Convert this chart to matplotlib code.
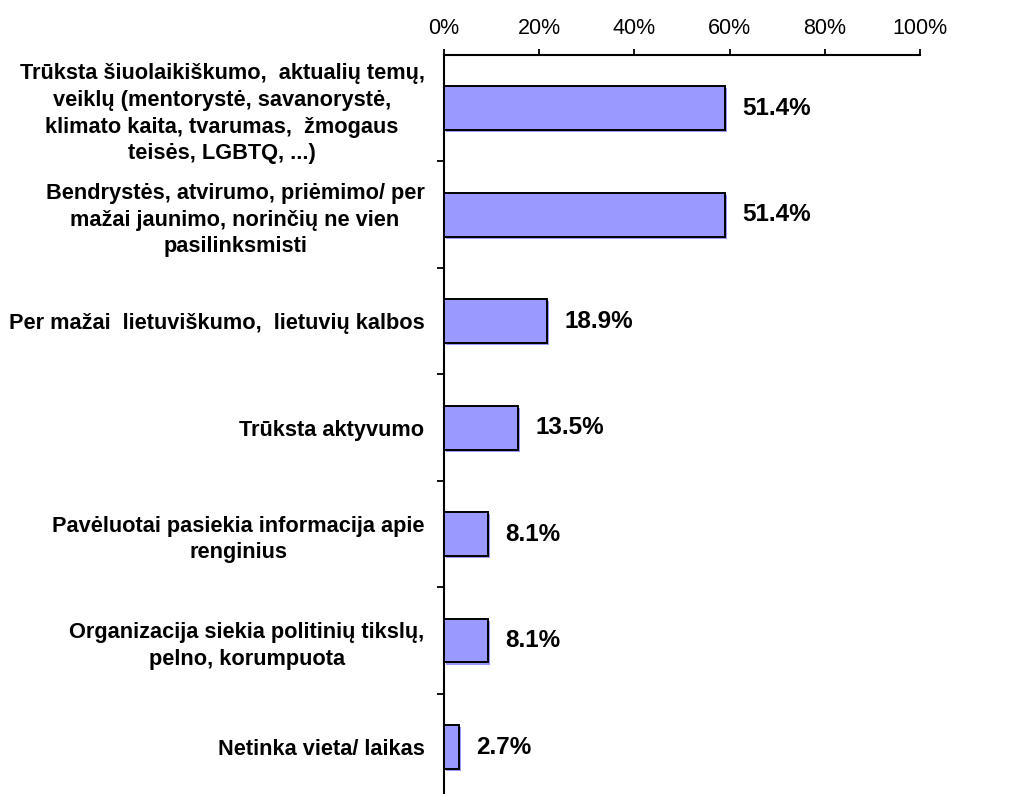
import matplotlib
matplotlib.use('Agg')
import matplotlib.pyplot as plt
import matplotlib.patheffects as pe
from matplotlib.ticker import PercentFormatter, FixedLocator
import numpy as np

plt.rcParams['font.family'] = ['Liberation Sans', 'DejaVu Sans']

# Duomenys
categories = [
    'Trūksta šiuolaikiškumo,  aktualių temų,\nveiklų (mentorystė, savanorystė,\nklimato kaita, tvarumas,  žmogaus\nteisės, LGBTQ, ...)',
    'Bendrystės, atvirumo, priėmimo/ per\nmažai jaunimo, norinčių ne vien\npasilinksmisti',
    'Per mažai  lietuviškumo,  lietuvių kalbos',
    'Trūksta aktyvumo',
    'Pavėluotai pasiekia informacija apie\nrenginius',
    'Organizacija siekia politinių tikslų,\npelno, korumpuota',
    'Netinka vieta/ laikas',
]
values = [51.4, 51.4, 18.9, 13.5, 8.1, 8.1, 2.7]
scale_ticks = [0, 20, 40, 60, 80, 100]

BAR_COLOR = '#9999FF'

fig = plt.figure(figsize=(10.28, 7.94), dpi=100)
ax = fig.add_axes([444 / 1028, 0.0, 476 / 1028, (794 - 55) / 794])

y = np.arange(len(categories))
bars = ax.barh(y, values, height=0.41, color=BAR_COLOR, edgecolor='black',
               linewidth=1.4, zorder=3)
for b in bars:
    b.set_path_effects([pe.SimplePatchShadow(offset=(1.5, -1.5),
                                             shadow_rgbFace=BAR_COLOR, alpha=1.0),
                        pe.Normal()])

# reikšmių etiketės
for yi, v in zip(y, values):
    ax.annotate(f'{v:.1f}%', xy=(v, yi), xytext=(12.5, 0), textcoords='offset points',
                ha='left', va='center', fontsize=17.5, fontweight='bold', color='black')

# duomenų ašis (paslėpta)
ax.set_xlim(0, 87.2)
ax.set_ylim(6.44, -0.5)
ax.set_xticks([])
for s in ['top', 'right', 'bottom']:
    ax.spines[s].set_visible(False)
ax.spines['left'].set_linewidth(1.5)

ax.set_yticks(y)
ax.set_yticklabels(categories, fontsize=15.7, fontweight='bold', multialignment='center',
                   linespacing=1.36)
ax.tick_params(axis='y', which='major', length=0, pad=14)
ax.yaxis.set_minor_locator(FixedLocator(np.arange(len(categories)) + 0.5))
ax.tick_params(axis='y', which='minor', length=5, width=1.3, direction='out')

# matoma skalė viršuje
ax2 = ax.twiny()
ax2.set_xlim(0, 100)
ax2.set_xticks(scale_ticks)
ax2.xaxis.set_major_formatter(PercentFormatter(decimals=0))
ax2.tick_params(axis='x', length=4.5, width=1.3, pad=7, labelsize=15.5)
for s in ['left', 'right', 'bottom']:
    ax2.spines[s].set_visible(False)
ax2.spines['top'].set_linewidth(1.5)

fig.savefig('out.png', dpi=100, facecolor='white')
